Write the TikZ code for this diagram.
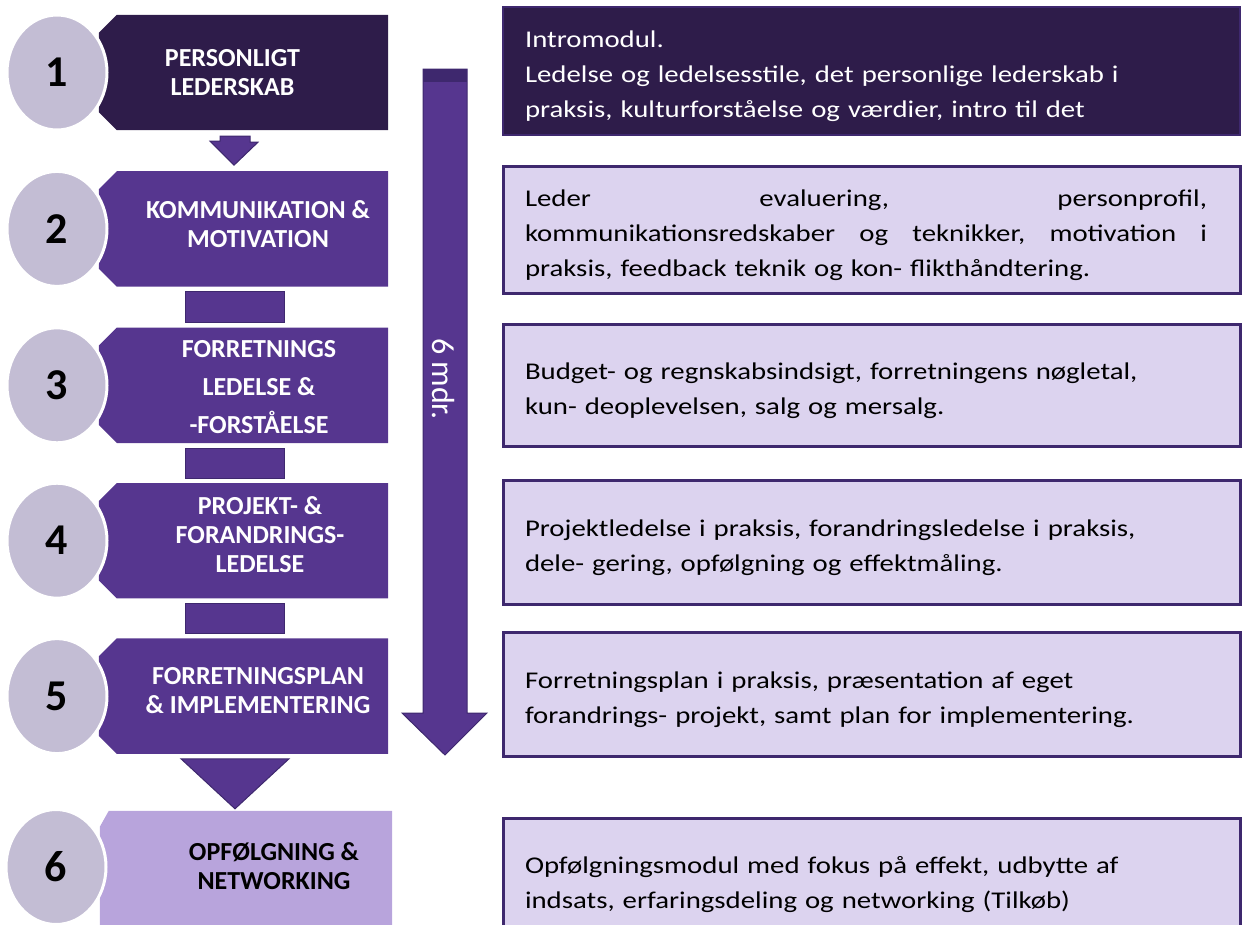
\documentclass[tikz,border=0pt]{standalone}
\usepackage{fontspec}
\setmainfont{Carlito}
\newfontfamily\infofont[FakeStretch=1.2]{Carlito}
\usetikzlibrary{shapes.geometric,positioning}
\definecolor{darkplum}{RGB}{46,28,74}
\definecolor{midplum}{RGB}{86,54,143}
\definecolor{edgeplum}{RGB}{62,40,110}
\definecolor{lightplum}{RGB}{184,164,220}
\definecolor{paleplum}{RGB}{220,211,239}
\definecolor{greyplum}{RGB}{195,189,212}
\tikzset{
  stepbox/.style={rectangle, minimum width=289pt, minimum height=115pt, inner sep=0pt},
  steptext/.style={text=white, align=center, font=\bfseries\fontsize{26}{29}\selectfont},
  stepnum/.style={ellipse, fill=greyplum, draw=white, line width=3pt, inner sep=0pt,
    minimum width=100pt, minimum height=115pt, font=\bfseries\fontsize{44}{44}\selectfont},
  infobox/.style={rectangle, fill=paleplum, draw=edgeplum, line width=3pt,
    minimum width=737pt, minimum height=124pt, text width=693pt, inner xsep=22pt,
    align=left, font=\infofont\fontsize{24}{35}\selectfont,
    execute at begin node={\rule{0pt}{28pt}}},
  link/.style={fill=midplum, draw=edgeplum, line width=1pt}
}
\begin{document}
\begin{tikzpicture}[x=1pt, y=1pt]
    \useasboundingbox (0,0) rectangle (1242,-924);
    \clip (0,0) rectangle (1242,-924);
    % module boxes, left column
    \node[stepbox] (b1) at (243.5,-72.5) {};
    \node[stepbox, below=41pt of b1] (b2) {};
    \node[stepbox, below=41pt of b2] (b3) {};
    \node[stepbox, below=40pt of b3] (b4) {};
    \node[stepbox, below=40pt of b4] (b5) {};
    \node[stepbox, minimum width=292pt, minimum height=129pt] (b6) at (246,-875.5) {};
    \foreach \i/\c in {1/darkplum, 2/midplum, 3/midplum, 4/midplum, 5/midplum}
    {
        \fill[\c] ([xshift=18pt]b\i.north west) -- (b\i.north east) -- (b\i.south east)
            -- ([xshift=18pt]b\i.south west) -- ([yshift=18pt]b\i.south west)
            -- ([yshift=-18pt]b\i.north west) -- cycle;
    }
    \fill[lightplum] ([xshift=9pt]b6.north west) -- (b6.north east) -- (b6.south east)
        -- (b6.south west) -- ([yshift=-16pt]b6.north west) -- cycle;
    \node[steptext] (t1) at ([xshift=-11pt]b1.center) {PERSONLIGT\\LEDERSKAB};
    \node[steptext] (t2) at ([xshift=14.5pt,yshift=5pt]b2.center) {KOMMUNIKATION \&\\MOTIVATION};
    \node[steptext] (t3) at ([xshift=15.5pt,yshift=-2pt]b3.center) {FORRETNINGS\\[9pt]LEDELSE \&\\[9pt]-FORSTÅELSE};
    \node[steptext] (t4) at ([xshift=16.5pt,yshift=6pt]b4.center) {PROJEKT- \&\\FORANDRINGS-\\LEDELSE};
    \node[steptext] (t5) at ([xshift=14.5pt,yshift=6pt]b5.center) {FORRETNINGSPLAN\\\& IMPLEMENTERING};
    \node[steptext, text=black] (t6) at ([xshift=28pt,yshift=9pt]b6.center) {OPFØLGNING \&\\NETWORKING};
    % numbered discs
    \foreach \i in {1,...,5}
    {
        \node[stepnum] (c\i) at ([xshift=-186.5pt]b\i.center) {\i};
    }
    \node[stepnum] (c6) at (56,-867) {6};
    % links between the boxes
    \filldraw[link] ([xshift=-23.5pt,yshift=-6pt]b1.south) -- ++(30,0) -- ++(0,-6) -- ++(8,0)
        -- ([xshift=-9.5pt,yshift=6pt]b2.north) -- ++(-24,24) -- ++(10,0) -- cycle;
    \foreach \a/\b in {2/3, 3/4, 4/5}
    {
        \filldraw[link] ([xshift=-58.5pt,yshift=-5pt]b\a.south) rectangle ([xshift=40.5pt,yshift=5pt]b\b.north);
    }
    \filldraw[link] ([xshift=-62.5pt,yshift=-5pt]b5.south) -- ([xshift=45.5pt,yshift=-5pt]b5.south)
        -- ([xshift=-11pt,yshift=2pt]b6.north) -- cycle;
    % six month arrow
    \coordinate (start) at (445,-69);
    \coordinate (tip) at (445,-755);
    \filldraw[link] ([xshift=-22pt]start) -- ([xshift=22pt]start) -- (467,-713) -- (487,-713)
        -- (tip) -- (402,-713) -- (423,-713) -- cycle;
    \fill[edgeplum] ([xshift=-22pt]start) rectangle ([xshift=22pt,yshift=-13pt]start);
    \node[rotate=-90, text=white, font=\fontsize{32}{32}\selectfont] (span) at (443,-379) {6 mdr.};
    % module contents, right column
    \node[infobox, fill=darkplum, line width=2pt, text=white, minimum height=128pt] (r1) at (871.5,-71)
        {Intromodul.\\Ledelse og ledelsesstile, det personlige lederskab i\\praksis, kulturforståelse og værdier, intro til det};
    \node[infobox, minimum height=127pt] (r2) at (871.5,-229.5)
        {\makebox[682pt]{Leder\hfill evaluering,\hfill personprofil,}\\\makebox[682pt]{kommunikationsredskaber\hfill og\hfill teknikker,\hfill motivation\hfill i}\\praksis, feedback teknik og kon- flikthåndtering.};
    \node[infobox, minimum height=122pt] (r3) at (871.5,-385)
        {Budget- og regnskabsindsigt, forretningens nøgletal,\\kun- deoplevelsen, salg og mersalg.};
    \node[infobox] (r4) at (871.5,-542)
        {Projektledelse i praksis, forandringsledelse i praksis,\\dele- gering, opfølgning og effektmåling.};
    \node[infobox] (r5) at (871.5,-694)
        {Forretningsplan i praksis, præsentation af eget\\forandrings- projekt, samt plan for implementering.};
    \node[infobox, minimum height=122pt] (r6) at (871.5,-879)
        {Opfølgningsmodul med fokus på effekt, udbytte af\\indsats, erfaringsdeling og networking (Tilkøb)};
\end{tikzpicture}
\end{document}
